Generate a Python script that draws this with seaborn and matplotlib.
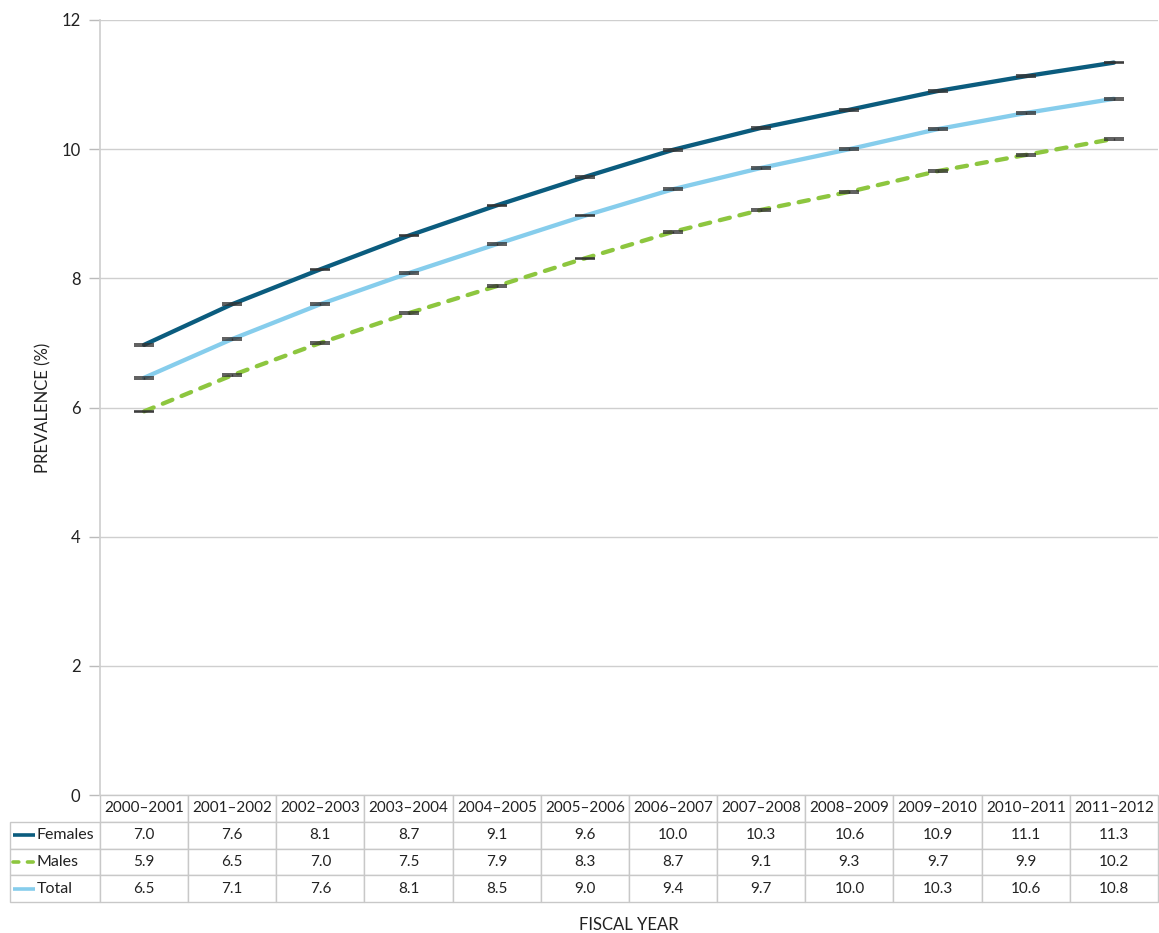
import numpy as np
import pandas as pd
import matplotlib
matplotlib.use('Agg')
import matplotlib.pyplot as plt
from matplotlib.lines import Line2D
import seaborn as sns

# fiscal years and prevalence (%)
years = ['2000–2001', '2001–2002', '2002–2003', '2003–2004', '2004–2005', '2005–2006',
         '2006–2007', '2007–2008', '2008–2009', '2009–2010', '2010–2011', '2011–2012']
females = [6.97, 7.60, 8.14, 8.66, 9.13, 9.57, 9.99, 10.33, 10.61, 10.90, 11.13, 11.34]
males = [5.94, 6.50, 7.00, 7.46, 7.88, 8.31, 8.72, 9.06, 9.34, 9.66, 9.91, 10.16]
total = [6.46, 7.06, 7.60, 8.08, 8.53, 8.97, 9.38, 9.71, 10.00, 10.31, 10.56, 10.78]
ci = [0.012] * 12  # tiny confidence interval half-widths

series_names = ['Females', 'Males', 'Total']
series_vals = [females, males, total]
colors = {'Females': '#0b5c7e', 'Males': '#8dc63f', 'Total': '#86cdec'}

sns.set_theme(style='white')
plt.rcParams['font.family'] = ['Lato', 'DejaVu Sans']
plt.rcParams['lines.dash_capstyle'] = 'round'

rows = []
for name, vals in zip(series_names, series_vals):
    for i, v in enumerate(vals):
        rows.append({'idx': i, 'year': years[i], 'series': name, 'value': v})
df = pd.DataFrame(rows)

W, H = 1159, 933
fig = plt.figure(figsize=(W / 100, H / 100), dpi=100)
ax_l, ax_r, ax_t, ax_b = 100, 1158, 20, 795
ax = fig.add_axes([ax_l / W, 1 - ax_b / H, (ax_r - ax_l) / W, (ax_b - ax_t) / H])

sns.lineplot(data=df, x='idx', y='value', hue='series', style='series',
             palette=colors, dashes={'Females': '', 'Males': (2.4, 2.3), 'Total': ''},
             linewidth=3.1, legend=False, ax=ax, zorder=3)

for name, vals in zip(series_names, series_vals):
    ax.errorbar(range(len(years)), vals, yerr=ci, fmt='none', ecolor='#333333',
                elinewidth=1, capsize=7, capthick=1.1, zorder=4)

ax.set_xlim(-0.5, len(years) - 0.5)
ax.set_ylim(0, 12)
ax.set_yticks([0, 2, 4, 6, 8, 10, 12])
ax.set_xticks([])
ax.set_xlabel('')
ax.set_ylabel('PREVALENCE (%)', fontsize=12, color='#222222')
ax.yaxis.set_label_coords((51 - ax_l) / (ax_r - ax_l), 0.5)
ax.yaxis.grid(True, color='#cfcfcf', linewidth=1)
ax.tick_params(axis='y', length=8, width=1, color='#bbbbbb', labelsize=12,
               labelcolor='#222222', left=True, pad=6)
for s in ['top', 'right', 'bottom']:
    ax.spines[s].set_visible(False)
ax.spines['left'].set_color('#cfcfcf')

# data table under the axis
fmt = lambda v: f'{v:.1f}'
cell_text = [[''] + years]
for name, vals in zip(series_names, series_vals):
    cell_text.append([name] + [fmt(v) for v in vals])

tab_l, tab_r, tab_t, tab_b = 10, 1158, 795, 902
col_w = [90] + [(tab_r - 100) / 12] * 12
tot_w = sum(col_w)
ax_w, ax_h = ax_r - ax_l, ax_b - ax_t
tbl = ax.table(cellText=cell_text, colWidths=[c / tot_w for c in col_w],
               bbox=[(tab_l - ax_l) / ax_w, -(tab_b - tab_t) / ax_h,
                     (tab_r - tab_l) / ax_w, (tab_b - tab_t) / ax_h],
               cellLoc='center')
tbl.auto_set_font_size(False)
for (r, c), cell in tbl.get_celld().items():
    cell.set_edgecolor('#c8c8c8')
    cell.set_linewidth(1)
    cell.get_text().set_fontsize(11.5 if c == 0 else 11)
    cell.get_text().set_color('#222222')
    if r == 0 and c == 0:
        cell.visible_edges = 'open'
    if c == 0 and r > 0:
        cell.get_text().set_ha('left')
        cell.PAD = 0.3

# legend keys in the row-label cells
row_h = (tab_b - tab_t) / 4
for k, name in enumerate(series_names):
    yc = 1 - (tab_t + row_h * (k + 1.5)) / H
    ls = (0, (1.6, 2.4)) if name == 'Males' else '-'
    fig.add_artist(Line2D([13 / W, 35 / W], [yc, yc], color=colors[name],
                          linewidth=2.6, linestyle=ls, solid_capstyle='butt',
                          transform=fig.transFigure))

fig.text((ax_l + ax_r) / 2 / W, 1 - 925 / H, 'FISCAL YEAR', ha='center', va='center',
         fontsize=12, color='#222222')

fig.savefig('out.png', dpi=100)
